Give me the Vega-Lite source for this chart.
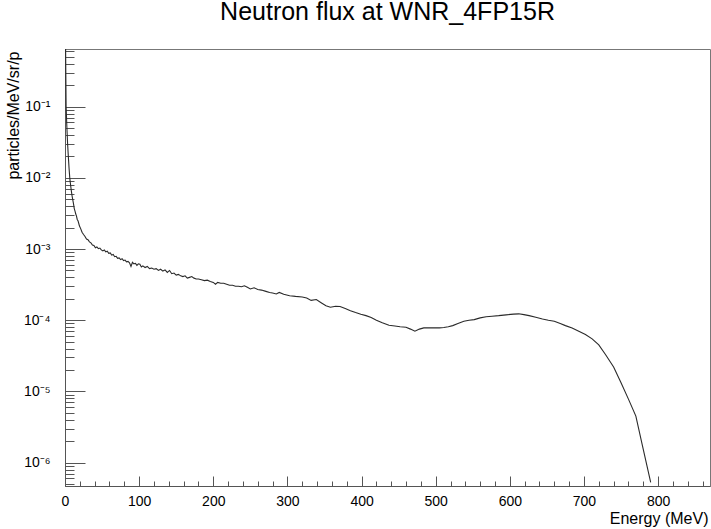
{
  "$schema": "https://vega.github.io/schema/vega-lite/v6.json",
  "width": 645,
  "height": 437,
  "autosize": "none",
  "padding": {"left": 65, "top": 49, "right": 1, "bottom": 43},
  "background": "white",
  "title": {"text": "Neutron flux at WNR_4FP15R", "font": "Liberation Sans", "fontSize": 25, "fontWeight": "normal", "color": "#000000", "anchor": "middle", "frame": "group", "baseline": "alphabetic", "offset": -22},
  "config": {
    "view": {"stroke": "#777777", "strokeWidth": 1},
    "axis": {"grid": false, "domainColor": "#555555", "tickColor": "#555555", "labelFont": "Liberation Sans", "titleFont": "Liberation Sans", "labelColor": "#000000", "titleColor": "#000000", "labelFontSize": 14, "titleFontSize": 16, "titleFontWeight": "normal"}
  },
  "data": {"values": [
    {"E": 0.5, "flux": 1.5}, {"E": 1.5, "flux": 0.1}, {"E": 2.5, "flux": 0.052}, {"E": 3.5, "flux": 0.03}, {"E": 4.5, "flux": 0.02},
    {"E": 5.5, "flux": 0.0135}, {"E": 6.5, "flux": 0.0098}, {"E": 7.5, "flux": 0.008}, {"E": 8.5, "flux": 0.0066}, {"E": 9.5, "flux": 0.0056},
    {"E": 10.5, "flux": 0.0049}, {"E": 11.5, "flux": 0.0043}, {"E": 12.5, "flux": 0.0037}, {"E": 13.5, "flux": 0.0034}, {"E": 14.5, "flux": 0.0031},
    {"E": 15.5, "flux": 0.0029}, {"E": 16.5, "flux": 0.0026}, {"E": 17.5, "flux": 0.0025}, {"E": 18.5, "flux": 0.0023}, {"E": 19.5, "flux": 0.0021},
    {"E": 21, "flux": 0.00195}, {"E": 23, "flux": 0.00172}, {"E": 25, "flux": 0.0016}, {"E": 27, "flux": 0.0015}, {"E": 29, "flux": 0.00138},
    {"E": 31, "flux": 0.00135}, {"E": 33, "flux": 0.00126}, {"E": 35, "flux": 0.00122}, {"E": 37, "flux": 0.00114}, {"E": 39, "flux": 0.00112},
    {"E": 41, "flux": 0.00104}, {"E": 43, "flux": 0.00107}, {"E": 45, "flux": 0.00101}, {"E": 47, "flux": 0.00103}, {"E": 49, "flux": 0.00097},
    {"E": 51, "flux": 0.00094}, {"E": 53, "flux": 0.00097}, {"E": 55, "flux": 0.00091}, {"E": 57, "flux": 0.00093}, {"E": 59, "flux": 0.00087},
    {"E": 61, "flux": 0.00088}, {"E": 63, "flux": 0.00082}, {"E": 65, "flux": 0.00084}, {"E": 67, "flux": 0.00078}, {"E": 69, "flux": 0.00079},
    {"E": 71, "flux": 0.00074}, {"E": 73, "flux": 0.00075}, {"E": 75, "flux": 0.00071}, {"E": 77, "flux": 0.00073}, {"E": 79, "flux": 0.00069},
    {"E": 81, "flux": 0.0007}, {"E": 83, "flux": 0.00066}, {"E": 85, "flux": 0.00067}, {"E": 87, "flux": 0.00064}, {"E": 89, "flux": 0.00057},
    {"E": 91, "flux": 0.00065}, {"E": 93, "flux": 0.00062}, {"E": 95, "flux": 0.00063}, {"E": 97, "flux": 0.00059}, {"E": 99, "flux": 0.00062},
    {"E": 101, "flux": 0.00061}, {"E": 103, "flux": 0.00056}, {"E": 105, "flux": 0.00058}, {"E": 108, "flux": 0.00055}, {"E": 111, "flux": 0.00057},
    {"E": 114, "flux": 0.00053}, {"E": 117, "flux": 0.00054}, {"E": 120, "flux": 0.00052}, {"E": 123, "flux": 0.00053}, {"E": 126, "flux": 0.0005},
    {"E": 129, "flux": 0.00052}, {"E": 132, "flux": 0.00049}, {"E": 135, "flux": 0.00051}, {"E": 138, "flux": 0.00047}, {"E": 141, "flux": 0.0005},
    {"E": 144, "flux": 0.00045}, {"E": 147, "flux": 0.00046}, {"E": 150, "flux": 0.00043}, {"E": 153, "flux": 0.00044}, {"E": 156, "flux": 0.00042},
    {"E": 159, "flux": 0.00041}, {"E": 162, "flux": 0.00042}, {"E": 165, "flux": 0.00039}, {"E": 168, "flux": 0.0004}, {"E": 171, "flux": 0.00041},
    {"E": 174, "flux": 0.00039}, {"E": 177, "flux": 0.00038}, {"E": 180, "flux": 0.00038}, {"E": 184, "flux": 0.00037}, {"E": 188, "flux": 0.00036},
    {"E": 192, "flux": 0.000365}, {"E": 196, "flux": 0.00035}, {"E": 200, "flux": 0.00034}, {"E": 203, "flux": 0.00032}, {"E": 206, "flux": 0.00034},
    {"E": 210, "flux": 0.00033}, {"E": 214, "flux": 0.00033}, {"E": 218, "flux": 0.00032}, {"E": 222, "flux": 0.00031}, {"E": 226, "flux": 0.00031},
    {"E": 230, "flux": 0.0003}, {"E": 234, "flux": 0.0003}, {"E": 238, "flux": 0.000295}, {"E": 242, "flux": 0.000305}, {"E": 246, "flux": 0.00029},
    {"E": 250, "flux": 0.000275}, {"E": 255, "flux": 0.000286}, {"E": 260, "flux": 0.00027}, {"E": 265, "flux": 0.000265}, {"E": 271, "flux": 0.000254},
    {"E": 276, "flux": 0.000245}, {"E": 280, "flux": 0.000241}, {"E": 285, "flux": 0.000234}, {"E": 289, "flux": 0.000246}, {"E": 295, "flux": 0.000232},
    {"E": 303, "flux": 0.000221}, {"E": 311, "flux": 0.000216}, {"E": 320, "flux": 0.000212}, {"E": 326, "flux": 0.000205}, {"E": 332, "flux": 0.00019},
    {"E": 339, "flux": 0.000195}, {"E": 346, "flux": 0.000175}, {"E": 352, "flux": 0.00016}, {"E": 358, "flux": 0.000152}, {"E": 365, "flux": 0.000157},
    {"E": 371, "flux": 0.000156}, {"E": 378, "flux": 0.000146}, {"E": 385, "flux": 0.000136}, {"E": 392, "flux": 0.000128}, {"E": 399, "flux": 0.000121},
    {"E": 406, "flux": 0.000116}, {"E": 413, "flux": 0.000109}, {"E": 420, "flux": 0.0001}, {"E": 428, "flux": 0.000092}, {"E": 437, "flux": 0.000085},
    {"E": 445, "flux": 0.000083}, {"E": 452, "flux": 0.000081}, {"E": 460, "flux": 0.0000795}, {"E": 466, "flux": 0.000075}, {"E": 472, "flux": 0.00007},
    {"E": 478, "flux": 0.000075}, {"E": 484, "flux": 0.000078}, {"E": 495, "flux": 0.000078}, {"E": 505, "flux": 0.000078}, {"E": 511, "flux": 0.000079},
    {"E": 517, "flux": 0.000081}, {"E": 523, "flux": 0.000084}, {"E": 530, "flux": 0.00009}, {"E": 538, "flux": 0.000097}, {"E": 545, "flux": 0.0001},
    {"E": 552, "flux": 0.000102}, {"E": 560, "flux": 0.000108}, {"E": 568, "flux": 0.000112}, {"E": 576, "flux": 0.000114}, {"E": 585, "flux": 0.000116},
    {"E": 595, "flux": 0.000119}, {"E": 605, "flux": 0.000122}, {"E": 612, "flux": 0.000123}, {"E": 619, "flux": 0.00012}, {"E": 626, "flux": 0.000116},
    {"E": 635, "flux": 0.00011}, {"E": 644, "flux": 0.000104}, {"E": 652, "flux": 0.0001}, {"E": 660, "flux": 0.000097}, {"E": 668, "flux": 0.00009},
    {"E": 675, "flux": 0.000084}, {"E": 684, "flux": 0.000078}, {"E": 693, "flux": 0.00007}, {"E": 702, "flux": 0.000063}, {"E": 711, "flux": 0.0000547},
    {"E": 720, "flux": 0.000045}, {"E": 729, "flux": 0.000033}, {"E": 740, "flux": 0.000022}, {"E": 750, "flux": 0.0000132}, {"E": 760, "flux": 0.0000078},
    {"E": 770, "flux": 0.0000045}, {"E": 779, "flux": 0.0000017}, {"E": 790, "flux": 0.00000053}
  ]},
  "resolve": {"axis": {"x": "independent", "y": "independent"}},
  "layer": [
    {
      "mark": {"type": "line", "color": "#2a2a2a", "strokeWidth": 1.1, "clip": true, "interpolate": "linear"},
      "encoding": {
        "x": {"field": "E", "type": "quantitative", "scale": {"domain": [0, 870], "nice": false, "zero": false},
          "axis": {"orient": "bottom", "values": [0, 100, 200, 300, 400, 500, 600, 700, 800], "ticks": false, "labelPadding": 8, "labelFlush": false, "labelOverlap": false,
            "title": "Energy (MeV)", "titleAlign": "right", "titleAnchor": "end", "titleX": 643, "titleY": 37, "titleBaseline": "alphabetic"}},
        "y": {"field": "flux", "type": "quantitative", "scale": {"type": "log", "domain": [4.7e-7, 0.644], "nice": false},
          "axis": {"orient": "left", "values": [1e-6, 1e-5, 1e-4, 1e-3, 1e-2, 1e-1], "ticks": false, "labelPadding": 15, "labelFlush": false, "labelOverlap": false,
            "labelExpr": "datum.value > 0.05 ? '10⁻¹' : datum.value > 0.005 ? '10⁻²' : datum.value > 0.0005 ? '10⁻³' : datum.value > 0.00005 ? '10⁻⁴' : datum.value > 0.000005 ? '10⁻⁵' : '10⁻⁶'",
            "title": "particles/MeV/sr/p", "titleAngle": -90, "titleAlign": "right", "titleBaseline": "alphabetic", "titleX": -47, "titleY": 2}}
      }
    },
    {
      "mark": {"type": "line", "strokeOpacity": 0},
      "encoding": {
        "x": {"field": "E", "type": "quantitative", "scale": {"domain": [0, 870], "nice": false, "zero": false},
          "axis": {"orient": "bottom", "values": [0, 100, 200, 300, 400, 500, 600, 700, 800], "labels": false, "domain": false, "tickSize": -10, "title": null}},
        "y": {"field": "flux", "type": "quantitative", "scale": {"type": "log", "domain": [4.7e-7, 0.644], "nice": false},
          "axis": {"orient": "left", "values": [1e-6, 1e-5, 1e-4, 1e-3, 1e-2, 1e-1], "labels": false, "domain": false, "tickSize": -20, "title": null}}
      }
    },
    {
      "mark": {"type": "line", "strokeOpacity": 0},
      "encoding": {
        "x": {"field": "E", "type": "quantitative", "scale": {"domain": [0, 870], "nice": false, "zero": false},
          "axis": {"orient": "bottom", "values": [20, 40, 60, 80, 120, 140, 160, 180, 220, 240, 260, 280, 320, 340, 360, 380, 420, 440, 460, 480, 520, 540, 560, 580, 620, 640, 660, 680, 720, 740, 760, 780, 820, 840, 860], "labels": false, "domain": false, "tickSize": -5, "title": null}},
        "y": {"field": "flux", "type": "quantitative", "scale": {"type": "log", "domain": [4.7e-7, 0.644], "nice": false},
          "axis": {"orient": "left", "values": [5e-7, 6e-7, 7e-7, 8e-7, 9e-7, 2e-6, 3e-6, 4e-6, 5e-6, 6e-6, 7e-6, 8e-6, 9e-6, 2e-5, 3e-5, 4e-5, 5e-5, 6e-5, 7e-5, 8e-5, 9e-5, 2e-4, 3e-4, 4e-4, 5e-4, 6e-4, 7e-4, 8e-4, 9e-4, 2e-3, 3e-3, 4e-3, 5e-3, 6e-3, 7e-3, 8e-3, 9e-3, 2e-2, 3e-2, 4e-2, 5e-2, 6e-2, 7e-2, 8e-2, 9e-2, 2e-1, 3e-1, 4e-1, 5e-1, 6e-1], "labels": false, "domain": false, "tickSize": -9, "title": null}}
      }
    }
  ]
}
